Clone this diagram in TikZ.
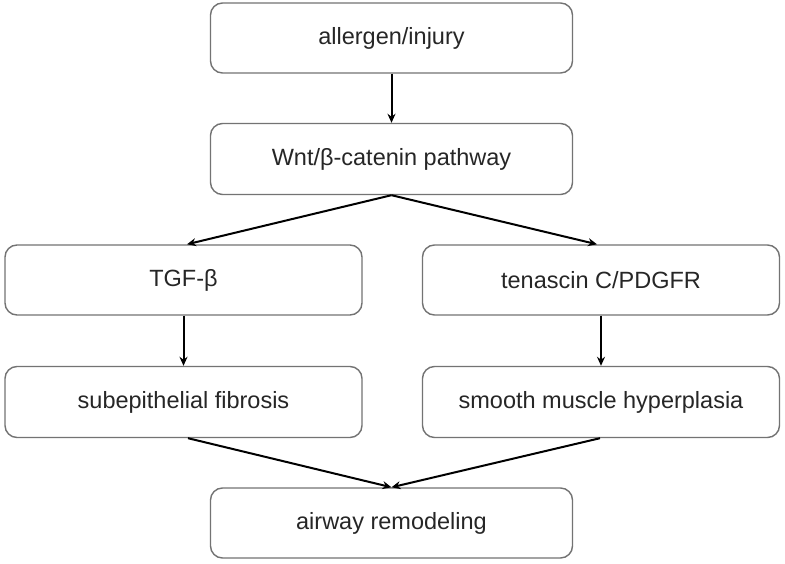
\documentclass[tikz,border=0pt]{standalone}
\usepackage{fontspec}
\setmainfont{Liberation Sans}
\usetikzlibrary{arrows.meta}
\begin{document}
\begin{tikzpicture}[x=1pt,y=-1pt,
  box/.style={draw=black!55, line width=1.4pt, rounded corners=12pt, fill=white,
    minimum width=357pt, minimum height=70pt, inner sep=0pt,
    font=\fontsize{23.5}{28}\selectfont, text=black!85},
  arr/.style={draw=black, line width=2pt, -{Stealth[length=9pt,width=8pt]}}]
\useasboundingbox (0,0) rectangle (785,564);
\node[box, minimum width=362pt] (a) at (391.5,38) {allergen/injury};
\node[box, minimum width=362pt, minimum height=71pt] (w) at (391.5,159) {Wnt/β-catenin pathway};
\node[box] (t) at (183.5,280) {TGF-β};
\node[box] (c) at (601,280) {tenascin C/PDGFR};
\node[box, minimum height=71pt] (s) at (183.5,402) {subepithelial fibrosis};
\node[box, minimum height=71pt] (m) at (601,402) {smooth muscle hyperplasia};
\node[box, minimum width=362pt] (r) at (391.5,523) {airway remodeling};
\draw[arr] (a.south) -- (w.north);
\draw[arr] (w.south) -- (t.north -| 187,0);
\draw[arr] (w.south) -- (c.north -| 597,0);
\draw[arr] (t.south) -- (s.north);
\draw[arr] (c.south) -- (m.north);
\draw[arr] (s.south -| 188,0) -- (r.north);
\draw[arr] (m.south -| 600,0) -- (r.north);
\end{tikzpicture}
\end{document}
